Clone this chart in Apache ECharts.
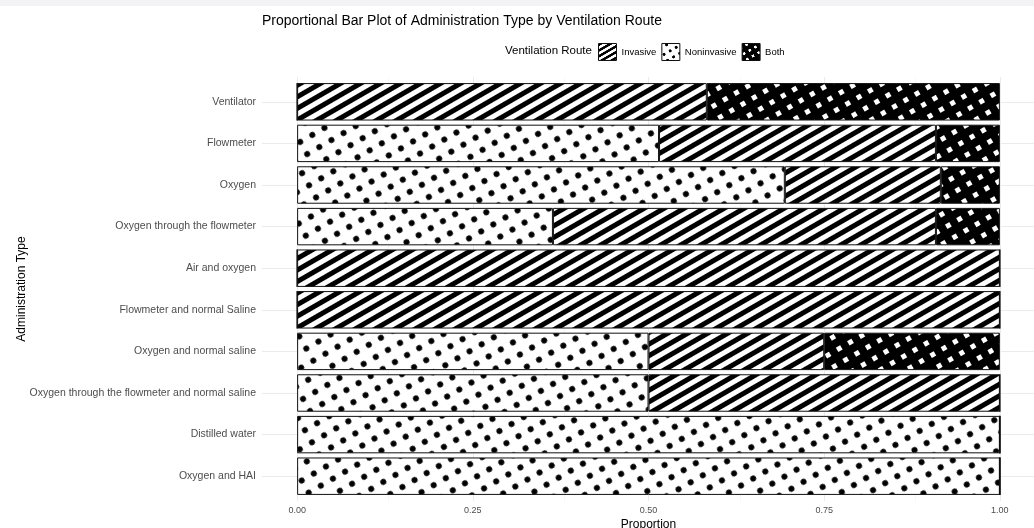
<!DOCTYPE html>
<html>
<head>
<meta charset="utf-8">
<script src="https://cdn.jsdelivr.net/npm/echarts@6/dist/echarts.min.js"></script>
<style>
html,body{margin:0;padding:0;background:#fff;}
#chart{width:1034px;height:528px;}
</style>
</head>
<body>
<div id="chart"></div>
<script>
// ---- data ----
var categories = ['Ventilator','Flowmeter','Oxygen','Oxygen through the flowmeter','Air and oxygen','Flowmeter and normal Saline','Oxygen and normal saline','Oxygen through the flowmeter and normal saline','Distilled water','Oxygen and HAI'];
var noninvasive = [0, 0.515, 0.694, 0.364, 0, 0, 0.5, 0.5, 1, 1];
var invasive    = [0.583, 0.394, 0.222, 0.545, 1, 1, 0.25, 0.5, 0, 0];
var both        = [0.417, 0.091, 0.084, 0.091, 0, 0, 0.25, 0, 0, 0];
var legendOrder = ['Invasive','Noninvasive','Both'];
var majorTicks = [0, 0.25, 0.5, 0.75, 1];
var minorTicks = [0.125, 0.375, 0.625, 0.875];

// ---- patterns ----
function tile(w, h, draw) {
  var c = document.createElement('canvas');
  c.width = w; c.height = h;
  var ctx = c.getContext('2d');
  draw(ctx, w, h);
  return c;
}
var rot = -Math.PI / 6;
var stripeTile = tile(10, 10, function (ctx, w, h) {
  ctx.fillStyle = '#fff'; ctx.fillRect(0, 0, w, h);
  ctx.fillStyle = '#000'; ctx.fillRect(0, 0, w, 5);
});
var dotTile = tile(14, 14, function (ctx, w, h) {
  ctx.fillStyle = '#fff'; ctx.fillRect(0, 0, w, h);
  ctx.fillStyle = '#000';
  ctx.beginPath(); ctx.arc(7, 7, 3, 0, Math.PI * 2); ctx.fill();
});
var crossTile = tile(13, 13, function (ctx, w, h) {
  ctx.fillStyle = '#000'; ctx.fillRect(0, 0, w, h);
  ctx.fillStyle = '#fff'; ctx.fillRect(4, 4, 5, 5);
});
function pat(img, s) {
  return {image: img, repeat: 'repeat', rotation: rot, scaleX: s, scaleY: s};
}

var chart = echarts.init(document.getElementById('chart'), null, {renderer: 'canvas'});

var gridLeft = 262, gridWidth = 773;
var FONT = 'Liberation Sans, Arial, sans-serif';
var barStyle = function (p) {
  return {color: p, borderColor: '#111', borderWidth: 1};
};
var legendPats = {
  'Invasive': pat(stripeTile, 0.5),
  'Noninvasive': pat(dotTile, 0.5),
  'Both': pat(crossTile, 0.5)
};

var option = {
  animation: false,
  backgroundColor: '#fff',
  textStyle: {fontFamily: FONT},
  title: [{
    text: 'Proportional Bar Plot of Administration Type by Ventilation Route',
    left: 257, top: 9,
    textStyle: {fontSize: 14, fontWeight: 'normal', color: '#000', fontFamily: FONT}
  }, {
    text: 'Ventilation Route',
    left: 500, top: 40,
    textStyle: {fontSize: 11.5, fontWeight: 'normal', color: '#000', fontFamily: FONT}
  }],
  graphic: [{
    type: 'rect', left: 0, top: 0, silent: true,
    shape: {width: 1034, height: 6},
    style: {fill: '#f3f3f5'}
  }],
  legend: {
    data: legendOrder.map(function (n) {
      return {name: n, itemStyle: {color: legendPats[n], borderColor: '#111', borderWidth: 1}};
    }),
    left: 593, top: 38,
    itemWidth: 18, itemHeight: 17, itemGap: 5,
    icon: 'rect',
    textStyle: {fontSize: 9.5, color: '#000', fontFamily: FONT},
    selectedMode: false
  },
  grid: [
    {left: gridLeft, width: gridWidth, top: 81, height: 416, containLabel: false, outerBoundsMode: 'none'},
    {left: gridLeft, width: gridWidth, top: 77, height: 424, containLabel: false, outerBoundsMode: 'none'}
  ],
  xAxis: [{
    type: 'value', gridIndex: 0, min: -0.05, max: 1.05,
    name: 'Proportion', nameLocation: 'middle', nameGap: 22, nameMoveOverlap: false,
    nameTextStyle: {fontSize: 12, color: '#000'},
    splitLine: {show: false}, axisLine: {show: false}, axisTick: {show: false},
    axisLabel: {
      customValues: majorTicks, margin: 9, fontSize: 9, color: '#4d4d4d',
      formatter: function (v) { return v.toFixed(2); }
    }
  }, {
    type: 'value', gridIndex: 1, min: -0.05, max: 1.05, show: false
  }],
  yAxis: [{
    type: 'category', gridIndex: 0, data: categories, inverse: true,
    name: 'Administration Type', nameLocation: 'middle', nameGap: 234, nameRotate: 90, nameMoveOverlap: false,
    nameTextStyle: {fontSize: 12, color: '#000'},
    axisLine: {show: false}, axisTick: {show: false}, splitLine: {show: false},
    axisLabel: {fontSize: 10.5, color: '#4d4d4d', margin: 6}
  }, {
    type: 'value', gridIndex: 1, min: 0, max: 1, show: false
  }],
  series: [
    {
      name: '_hgrid', type: 'line', xAxisIndex: 0, yAxisIndex: 0, data: [], z: 0, silent: true,
      markLine: {
        z: 0, silent: true, symbol: ['none', 'none'], label: {show: false},
        lineStyle: {color: '#ebebeb', width: 1, type: 'solid'},
        data: categories.map(function (c) { return {yAxis: c}; })
      }
    },
    {
      name: '_vgrid', type: 'line', xAxisIndex: 1, yAxisIndex: 1, data: [], z: 0, silent: true,
      markLine: {
        z: 0, silent: true, symbol: ['none', 'none'], label: {show: false},
        lineStyle: {color: '#ebebeb', width: 1, type: 'solid'},
        data: majorTicks.map(function (v) { return {xAxis: v}; }).concat(
          minorTicks.map(function (v) { return {xAxis: v, lineStyle: {width: 0.5, color: '#ededed'}}; }))
      }
    },
    {
      name: 'Noninvasive', type: 'bar', stack: 'total', data: noninvasive, z: 5,
      barWidth: '90%', itemStyle: barStyle(pat(dotTile, 1))
    },
    {
      name: 'Invasive', type: 'bar', stack: 'total', data: invasive, z: 5,
      barWidth: '90%', itemStyle: barStyle(pat(stripeTile, 1))
    },
    {
      name: 'Both', type: 'bar', stack: 'total', data: both, z: 5,
      barWidth: '90%', itemStyle: barStyle(pat(crossTile, 1))
    }
  ]
};
chart.setOption(option);
</script>
</body>
</html>
